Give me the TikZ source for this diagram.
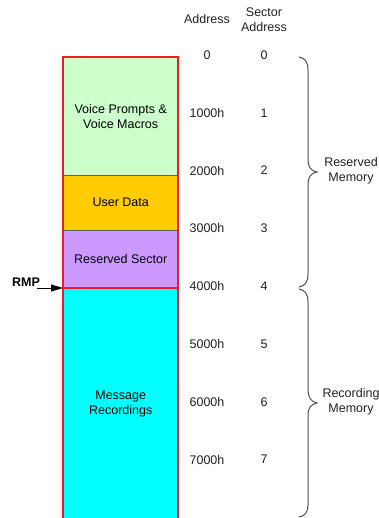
\documentclass[tikz,border=0pt]{standalone}
\usepackage{fontspec}
\setmainfont{Liberation Sans}
\usetikzlibrary{arrows.meta}
\definecolor{vpgreen}{HTML}{CCFFCC}
\definecolor{udyellow}{HTML}{FFCC00}
\definecolor{rspurple}{HTML}{CC99FF}
\definecolor{mrcyan}{HTML}{00FFFF}
\definecolor{boxred}{HTML}{EE1C24}
\definecolor{divgray}{HTML}{606060}
\definecolor{labelgray}{HTML}{202020}
\definecolor{bracegray}{HTML}{505050}
\begin{document}
\begin{tikzpicture}[x=1pt,y=-1pt,
  font=\fontsize{12.5}{15}\selectfont,
  block/.style={anchor=north west, inner sep=0pt, minimum width=115pt, align=center, text=black},
  lbl/.style={inner sep=0pt, text=labelgray, align=center},
  bracestyle/.style={draw=bracegray, line width=1pt},
]
\useasboundingbox (0,0) rectangle (379,518);
\clip (0,0) rectangle (379,518);
% memory blocks
\node[block, fill=vpgreen, minimum height=118pt] (vp) at (63,57) {Voice Prompts \&\\Voice Macros};
\node[block, fill=udyellow, minimum height=55pt] (ud) at (63,175) {User Data};
\node[block, fill=rspurple, minimum height=58pt] (rs) at (63,230) {Reserved Sector};
\node[block, fill=mrcyan, minimum height=232pt] (mr) at (63,288) {Message\\Recordings};
% dividers
\draw[divgray, line width=1pt] (vp.south west) -- (vp.south east);
\draw[divgray, line width=1pt] (ud.south west) -- (ud.south east);
\draw[boxred, line width=2pt] (rs.south west) -- (rs.south east);
% outer border
\draw[boxred, line width=2pt] (mr.south west) -- (vp.north west) -- (vp.north east) -- (mr.south east);
% headers
\node[lbl] (haddr) at (207,19) {Address};
\node[lbl] (hsec) at (264,19.5) {Sector\\Address};
% address values
\foreach \i/\a in {0/0,1/1000h,2/2000h,3/3000h,4/4000h,5/5000h,6/6000h,7/7000h}{
  \node[lbl] (addr\i) at (207,{55+57.8*\i}) {\a};
  \node[lbl] (sec\i) at (264,{55+57.8*\i}) {\i};
}
% braces
\draw[bracestyle] (299,57) .. controls (305,58) and (308,62) .. (308,70) -- (308,160)
  .. controls (308,167) and (311,171) .. (317,172)
  .. controls (311,173) and (308,177) .. (308,184) -- (308,274)
  .. controls (308,282) and (305,286) .. (299,287);
\draw[bracestyle] (299,289) .. controls (305,290) and (308,294) .. (308,302) -- (308,390)
  .. controls (308,397) and (311,402) .. (317,403)
  .. controls (311,404) and (308,408) .. (308,415) -- (308,505)
  .. controls (308,512) and (305,516) .. (299,517);
\node[lbl] (resmem) at (351,171) {Reserved\\Memory};
\node[lbl] (recmem) at (351,402) {Recording\\Memory};
% RMP pointer
\node[inner sep=0pt, font=\fontsize{12.5}{15}\selectfont\bfseries] (rmp) at (26,282) {RMP};
\coordinate (rmpstart) at (37,288);
\draw[line width=1pt, -{Triangle[length=12pt,width=7pt]}] (rmpstart) -- (mr.north west);
\end{tikzpicture}
\end{document}
